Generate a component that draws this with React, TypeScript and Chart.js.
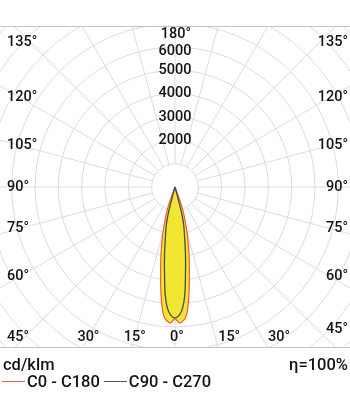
import React, { useEffect, useRef } from 'react';
import { Chart, registerables } from 'chart.js';

Chart.register(...registerables);

// Photometric data (cd/klm) vs angle from nadir (deg), symmetric planes
const c0Angles = [0, 2, 4.5, 6, 7.4, 9.3, 11.7, 14.3, 15.7, 17.6, 19.4, 20, 21];
const c0Values = [5650, 5830, 5630, 5220, 4650, 3810, 2960, 2170, 1740, 1300, 860, 410, 0];
const c90Angles = [0, 2, 3.6, 5.2, 6.8, 8.8, 11, 12.7, 14, 14.6, 15.2];
const c90Values = [5610, 5480, 5200, 4635, 3785, 2935, 2140, 1714, 1280, 840, 0];

const ringValues = [1000, 2000, 3000, 4000, 5000, 6000, 7000, 8000, 9000, 10000, 11000];
const radialTickValues = [2000, 3000, 4000, 5000, 6000];
const angleTicks = [0, 15, 30, 45, 60, 75, 90, 105, 120, 135];
const topAngleLabel = '180°';
const seriesNames = ['C0 - C180', 'C90 - C270'];
const unitLabel = 'cd/klm';
const efficiencyLabel = 'η=100%';

const FONT = 'Roboto, "Noto Sans", sans-serif';

function toXY(angles: number[], values: number[]) {
  const pts: { x: number; y: number }[] = [];
  for (let i = angles.length - 1; i >= 0; i--) {
    const t = (-angles[i] * Math.PI) / 180;
    pts.push({ x: values[i] * Math.sin(t), y: -values[i] * Math.cos(t) });
  }
  for (let i = 1; i < angles.length; i++) {
    const t = (angles[i] * Math.PI) / 180;
    pts.push({ x: values[i] * Math.sin(t), y: -values[i] * Math.cos(t) });
  }
  return pts;
}

const polarGrid = {
  id: 'polarGrid',
  beforeDatasetsDraw(chart: any) {
    const { ctx, chartArea, scales } = chart;
    const sx = scales.x;
    const sy = scales.y;
    const cx = sx.getPixelForValue(0);
    const cy = sy.getPixelForValue(0);
    const unit = sx.getPixelForValue(1000) - cx;
    ctx.save();
    ctx.beginPath();
    ctx.rect(chartArea.left, chartArea.top, chartArea.right - chartArea.left, chartArea.bottom - chartArea.top);
    ctx.clip();
    ctx.strokeStyle = '#dcdcdc';
    ctx.lineWidth = 1;
    ringValues.forEach((v) => {
      ctx.beginPath();
      ctx.arc(cx, cy, sx.getPixelForValue(v) - cx, 0, Math.PI * 2);
      ctx.stroke();
    });
    const rMax = sx.getPixelForValue(ringValues[ringValues.length - 1]) - cx;
    for (let a = 0; a < 360; a += 15) {
      const t = (a * Math.PI) / 180;
      ctx.beginPath();
      ctx.moveTo(cx + unit * Math.sin(t), cy + unit * Math.cos(t));
      ctx.lineTo(cx + rMax * Math.sin(t), cy + rMax * Math.cos(t));
      ctx.stroke();
    }
    ctx.restore();
    ctx.save();
    ctx.strokeStyle = '#c4c4c4';
    ctx.lineWidth = 1;
    ctx.beginPath();
    ctx.moveTo(0, Math.round(chartArea.top) + 0.5);
    ctx.lineTo(chart.width, Math.round(chartArea.top) + 0.5);
    ctx.moveTo(0, Math.round(chartArea.bottom) - 0.5);
    ctx.lineTo(chart.width, Math.round(chartArea.bottom) - 0.5);
    ctx.stroke();
    ctx.restore();
  },
  afterDraw(chart: any) {
    const { ctx, chartArea, scales } = chart;
    const sx = scales.x;
    const sy = scales.y;
    const cx = sx.getPixelForValue(0);
    const cy = sy.getPixelForValue(0);
    const W = chart.width;
    ctx.save();
    ctx.fillStyle = '#141414';
    ctx.font = `500 14.5px ${FONT}`;
    ctx.textBaseline = 'middle';
    const sideInset = 20;
    const bottomY = chartArea.bottom - 11;
    const topY = chartArea.top + 16;
    angleTicks.forEach((a) => {
      const t = (a * Math.PI) / 180;
      const sides = a === 0 ? [0] : [-1, 1];
      sides.forEach((s) => {
        const label = `${a}°`;
        if (a >= 45) {
          const dxEdge = cx - sideInset;
          let y = cy + (dxEdge * Math.cos(t)) / Math.sin(t);
          y = Math.max(topY, Math.min(bottomY, y));
          if (s < 0) {
            ctx.textAlign = 'left';
            ctx.fillText(label, 7, y);
          } else {
            ctx.textAlign = 'right';
            ctx.fillText(label, W - 2, a === 45 ? y - 8 : y);
          }
        } else if (s <= 0) {
          const x = cx - (bottomY - cy) * Math.tan(t);
          ctx.textAlign = 'center';
          ctx.fillText(label, x + (s === 0 ? 2 : 0), bottomY);
        } else {
          const x = cx + (chartArea.bottom - cy) * Math.tan(t);
          ctx.textAlign = 'left';
          ctx.fillText(label, x, bottomY);
        }
      });
    });
    // top label and radial values
    const topLabelY = chartArea.top + 8;
    ctx.textAlign = 'center';
    ctx.fillText(topAngleLabel, cx + 1, topLabelY);
    radialTickValues.forEach((v) => {
      const y = Math.max(sy.getPixelForValue(v), topLabelY + 17);
      ctx.fillText(String(v), cx, y);
    });
    // bottom texts
    ctx.font = `500 16.5px ${FONT}`;
    ctx.textBaseline = 'alphabetic';
    ctx.textAlign = 'left';
    ctx.fillText(unitLabel, 3, 370);
    ctx.textAlign = 'right';
    ctx.fillText(efficiencyLabel, W - 2, 370);
    // legend
    ctx.textAlign = 'left';
    const colors = ['#f0525a', '#555555'];
    let x = 2;
    const ly = 381.5;
    seriesNames.forEach((name, i) => {
      ctx.strokeStyle = colors[i];
      ctx.lineWidth = 1;
      ctx.beginPath();
      ctx.moveTo(x, ly);
      ctx.lineTo(x + 23, ly);
      ctx.stroke();
      x += 25;
      ctx.fillText(name, x, 386.5);
      x += ctx.measureText(name).width + 4;
    });
    ctx.restore();
  },
};

export default function App() {
  const ref = useRef<HTMLCanvasElement | null>(null);
  useEffect(() => {
    document.body.style.margin = '0';
    if (!ref.current) return;
    const chart = new Chart(ref.current, {
      type: 'scatter',
      data: {
        datasets: [
          {
            label: seriesNames[1],
            data: toXY(c90Angles, c90Values),
            showLine: true,
            borderColor: '#4a4a4a',
            borderWidth: 1.3,
            pointRadius: 0,
            tension: 0.3,
            fill: false,
            order: 0,
          },
          {
            label: seriesNames[0],
            data: toXY(c0Angles, c0Values),
            showLine: true,
            borderColor: '#ee5a35',
            backgroundColor: '#f3e633',
            borderWidth: 1.2,
            pointRadius: 0,
            tension: 0.3,
            fill: 'shape',
            order: 1,
          },
        ],
      },
      options: {
        animation: false,
        responsive: false,
        devicePixelRatio: 1,
        layout: { padding: { top: 26, bottom: 47, left: 0, right: 0 } },
        scales: {
          x: { type: 'linear', min: -7500, max: 7500, display: false },
          y: { type: 'linear', min: -6900, max: 6900, display: false },
        },
        plugins: { legend: { display: false }, tooltip: { enabled: false } },
      },
      plugins: [polarGrid],
    } as any);
    return () => chart.destroy();
  }, []);
  return (
    <div style={{ width: 350, height: 395 }}>
      <canvas ref={ref} width={350} height={395} style={{ display: 'block' }} />
    </div>
  );
}
